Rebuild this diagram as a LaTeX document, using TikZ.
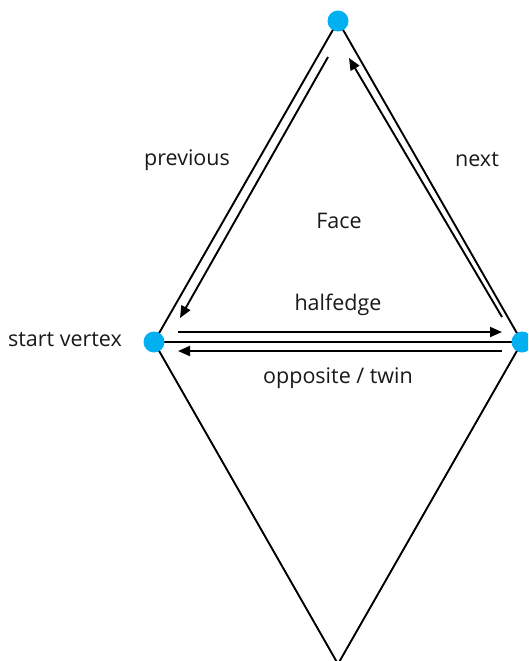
\documentclass[tikz,border=0pt]{standalone}
\usepackage{fontspec}
\setmainfont{Open Sans}
\usetikzlibrary{arrows.meta}
\definecolor{vblue}{HTML}{00B0F0}
\begin{document}
\begin{tikzpicture}[x=1pt,y=-1pt,
  edge/.style={line width=1.9pt, black},
  harrow/.style={line width=1.9pt, black, -{Triangle[length=12pt,width=10pt]}},
  vdot/.style={circle, fill=vblue, inner sep=0pt, minimum size=21pt},
  lbl/.style={font=\fontsize{21.5}{25}\selectfont, text=black!90, inner sep=0pt}]
\useasboundingbox (0,0) rectangle (528,661);
\clip (0,0) rectangle (528,661);
% vertices
\coordinate (T) at (338,21);
\coordinate (L) at (154,342);
\coordinate (R) at (522,342);
\coordinate (B) at (338,664);
% edges
\draw[edge] (T) -- (L) -- (B) -- (R) -- (T);
\draw[edge] (L) -- (R);
% halfedge arrows
\coordinate (p1) at (328,57);
\coordinate (p2) at (180,318);
\coordinate (n1) at (502,317);
\coordinate (n2) at (349,58);
\coordinate (h1) at (178,332);
\coordinate (h2) at (502,332);
\coordinate (o1) at (502,351);
\coordinate (o2) at (178,351);
\draw[harrow] (p1) -- (p2);
\draw[harrow] (n1) -- (n2);
\draw[harrow] (h1) -- (h2);
\draw[harrow] (o1) -- (o2);
% vertex dots
\node[vdot] (vT) at (T) {};
\node[vdot] (vL) at (L) {};
\node[vdot] (vR) at (R) {};
% labels
\node[lbl] (prev) at (187,160) {previous};
\node[lbl] (next) at (477,160) {next};
\node[lbl] (face) at (339,221) {Face};
\node[lbl] (half) at (338,305) {halfedge};
\node[lbl] (start) at (65,340) {start vertex};
\node[lbl] (opp) at (338,378) {opposite / twin};
\end{tikzpicture}
\end{document}
